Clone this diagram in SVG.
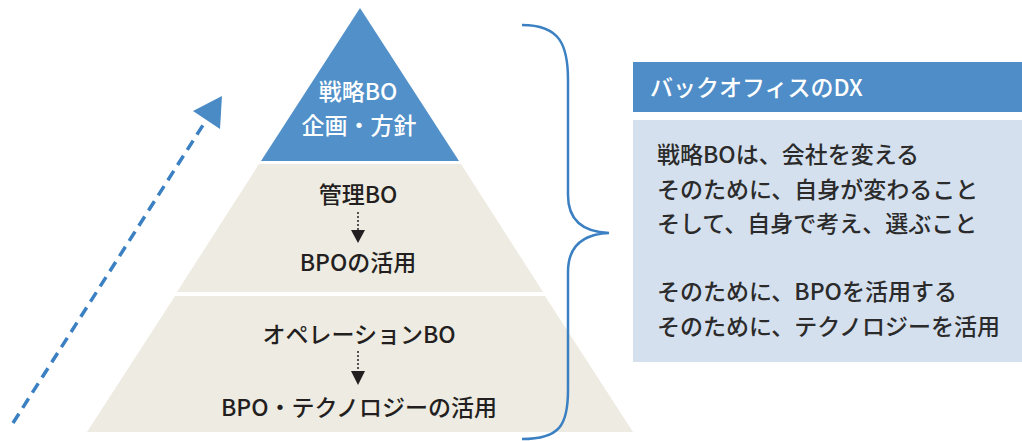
<svg xmlns="http://www.w3.org/2000/svg" width="1022" height="441" viewBox="0 0 1022 441">
<style>
text{font-family:"Noto Sans CJK JP","Noto Sans",sans-serif;font-weight:500}
.pt{font-size:23px;fill:#231f20;text-anchor:middle}
.wt{font-size:23px;fill:#fff;text-anchor:middle}
.bt{font-size:23px;fill:#2b2b2b}
.beige{fill:#eeebe2}
.blue{fill:#5190c8}
.dot{stroke:#231f20;stroke-width:1.5;stroke-dasharray:2 2;fill:none}
.ah{fill:#231f20}
</style>
<g id="top">
<polygon class="blue" points="360,8 261,161 459,161"/>
<text class="wt" x="358" y="100">戦略BO</text>
<text class="wt" x="359" y="134">企画・方針</text>
</g>
<g id="middle">
<polygon class="beige" points="259,164 461,164 543,292 177,292"/>
<text class="pt" x="358" y="203">管理BO</text>
<text class="pt" x="358" y="271">BPOの活用</text>
</g>
<g id="bottom">
<polygon class="beige" points="175,296 545,296 633,432 87,432"/>
<text class="pt" x="359" y="343">オペレーションBO</text>
<text class="pt" x="359" y="416">BPO・テクノロジーの活用</text>
</g>
<g id="panel">
<rect x="633" y="62" width="389" height="50" fill="#4e8dc7"/>
<text x="650" y="96" font-size="23" fill="#fff">バックオフィスのDX</text>
<rect x="633" y="120" width="389" height="242" fill="#d5e0ee"/>
<text class="bt" x="657" y="163">戦略BOは、会社を変える</text>
<text class="bt" x="657" y="198">そのために、自身が変わること</text>
<text class="bt" x="657" y="232">そして、自身で考え、選ぶこと</text>
<text class="bt" x="657" y="300">そのために、BPOを活用する</text>
<text class="bt" x="657" y="335">そのために、テクノロジーを活用</text>
</g>
<g id="connectors">
<line class="dot" x1="358" y1="212" x2="358" y2="231"/>
<polygon class="ah" points="351,230 365,230 358,243"/>
<line class="dot" x1="358" y1="351" x2="358" y2="372"/>
<polygon class="ah" points="351,371 365,371 358,385"/>
<line x1="13" y1="423" x2="205" y2="122" stroke="#3b80c2" stroke-width="3.5" stroke-dasharray="11 7"/>
<polygon points="222,96 193,111 220,129" fill="#4a8bc6"/>
<path d="M522,25 C560,25 568,45 568,80 L568,195 C568,222 585,232 609,233 C585,234 568,244 568,272 L568,390 C568,425 560,439 522,439" fill="none" stroke="#3b80c2" stroke-width="2.5"/>
</g>
</svg>
